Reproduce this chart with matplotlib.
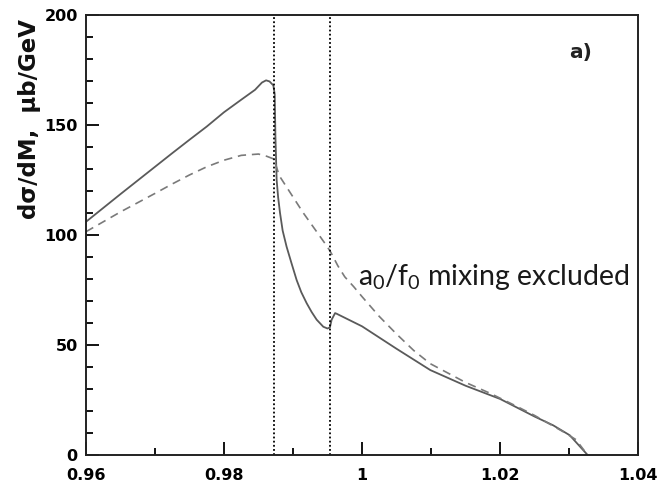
import matplotlib
matplotlib.use("Agg")
import matplotlib.pyplot as plt
from matplotlib.ticker import MultipleLocator

plt.rcParams['mathtext.fontset'] = 'custom'
plt.rcParams['mathtext.rm'] = 'Lato'
plt.rcParams['mathtext.it'] = 'Lato:italic'
plt.rcParams['mathtext.bf'] = 'Lato:bold'

# Solid curve (full calculation)
x_solid = [0.9600, 0.9625, 0.9650, 0.9675, 0.9700, 0.9725, 0.9750, 0.9775, 0.9800,
           0.9825, 0.9845, 0.9855, 0.9861, 0.9866, 0.98715, 0.98735, 0.98745, 0.98763,
           0.98785, 0.98812, 0.9885, 0.98907, 0.9898, 0.99053, 0.9912, 0.99198,
           0.9927, 0.99343, 0.99439, 0.9950, 0.99535, 0.9956, 0.9961, 0.99633,
           1.0000, 1.0050, 1.0099, 1.0150, 1.0200, 1.0225, 1.0250, 1.0277,
           1.0301, 1.0327]
y_solid = [106.0, 112.3, 118.6, 124.8, 131.0, 137.2, 143.3, 149.3, 155.8,
           161.5, 166.0, 169.3, 170.3, 169.8, 168.0, 164.0, 145.0, 125.0,
           117.0, 110.0, 102.0, 94.7, 87.0, 79.5, 74.0, 69.0,
           65.0, 61.5, 58.3, 57.5, 58.0, 61.5, 64.5, 64.2,
           58.5, 48.3, 38.6, 31.5, 25.5, 21.5, 17.5, 13.5,
           9.0, 0.0]

# Dashed curve (a0/f0 mixing excluded)
x_dashed = [0.9600, 0.9625, 0.9650, 0.9675, 0.9700, 0.9725, 0.9750, 0.9775, 0.9800,
            0.9825, 0.9850, 0.98618, 0.98725, 0.9880, 0.9915, 0.9949, 0.9955,
            0.9965, 0.9975, 0.9988, 1.0000, 1.0025, 1.0050, 1.0075, 1.0099,
            1.0150, 1.0186, 1.0225, 1.0250, 1.0292, 1.0310, 1.0327]
y_dashed = [101.5, 106.0, 110.5, 114.7, 118.9, 123.2, 127.3, 131.0, 134.0,
            136.2, 136.8, 135.8, 134.5, 127.0, 110.0, 95.0, 92.0,
            86.0, 81.0, 76.5, 72.0, 63.0, 55.0, 47.5, 41.5,
            33.0, 28.0, 22.0, 18.0, 10.5, 7.0, 0.0]

# Thresholds (K+K- and K0K0bar)
thresholds = [0.98725, 0.9954]

x_ticks = [0.96, 0.98, 1.0, 1.02, 1.04]
x_ticklabels = ["0.96", "0.98", "1", "1.02", "1.04"]
y_ticks = [0, 50, 100, 150, 200]
y_ticklabels = ["0", "50", "100", "150", "200"]

fig = plt.figure(figsize=(6.61, 4.88), dpi=100)
ax = fig.add_axes([86/661, 1 - 455/488, (638-86)/661, (455-15)/488])

ax.plot(x_solid, y_solid, color='#5a5a5a', lw=1.3, solid_joinstyle='round')
ax.plot(x_dashed, y_dashed, color='#7a7a7a', lw=1.2, linestyle=(0, (5, 3.5)))
for t in thresholds:
    ax.axvline(t, color='black', lw=1.3, linestyle=(0, (1, 1.3)))

ax.set_xlim(0.96, 1.04)
ax.set_ylim(0, 200)
ax.set_xticks(x_ticks)
ax.set_xticklabels(x_ticklabels)
ax.set_yticks(y_ticks)
ax.set_yticklabels(y_ticklabels)
ax.xaxis.set_minor_locator(MultipleLocator(0.01))
ax.yaxis.set_minor_locator(MultipleLocator(10))
ax.tick_params(which='both', direction='in', top=False, right=False, width=1.3, color='black')
ax.tick_params(which='major', length=9.5)
ax.tick_params(which='minor', length=5)
ax.tick_params(axis='x', pad=9)
ax.tick_params(axis='y', pad=6)
for lab in ax.get_xticklabels() + ax.get_yticklabels():
    lab.set_fontfamily('DejaVu Sans')
    lab.set_fontweight('bold')
    lab.set_fontsize(11.5)
for sp in ax.spines.values():
    sp.set_linewidth(1.4)
    sp.set_color('#222222')

fig.text(30/661, 1 - 119/488, "dσ/dM,  μb/GeV", rotation=90, ha='center', va='center',
         fontfamily='DejaVu Sans', fontweight='bold', fontsize=16.5, color='#111111')

ax.text(1.0317, 183, "a)", ha='center', va='center', fontfamily='DejaVu Sans',
        fontweight='bold', fontsize=14.5, color='#222222')

ax.text(0.9994, 77.3, r"a$_\mathrm{0}$/f$_\mathrm{0}$ mixing excluded", ha='left', va='baseline',
        fontfamily='Lato', fontsize=20.5, color='#1a1a1a')

fig.savefig("out.png", dpi=100)
